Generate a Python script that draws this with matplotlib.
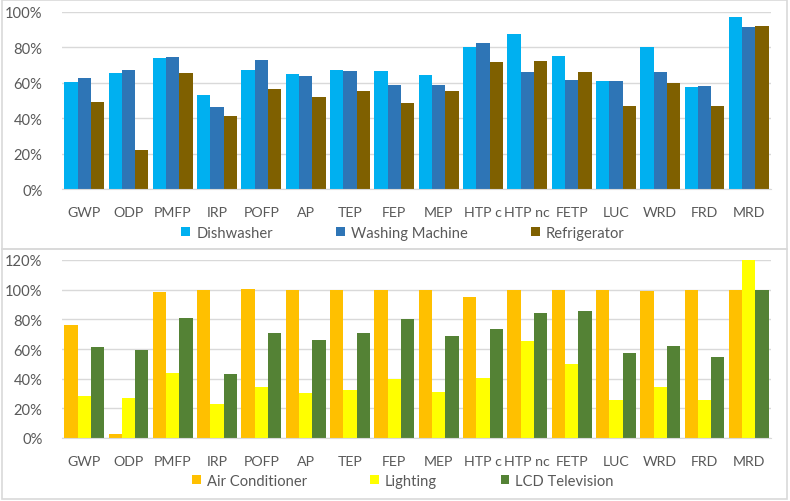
import matplotlib
matplotlib.use("Agg")
import matplotlib.pyplot as plt
from matplotlib.patches import Rectangle
from matplotlib.ticker import PercentFormatter
import numpy as np

plt.rcParams['font.family'] = ['Lato', 'DejaVu Sans']

# categorias de impacto
categorias = ["GWP", "ODP", "PMFP", "IRP", "POFP", "AP", "TEP", "FEP", "MEP",
              "HTP c", "HTP nc", "FETP", "LUC", "WRD", "FRD", "MRD"]

# panel superior (%)
dishwasher = [60.5, 65.7, 73.8, 53.3, 67.4, 65.2, 67.4, 66.5, 64.4, 80.2, 87.8, 75.3, 61.0, 80.2, 57.8, 97.4]
washing = [62.9, 67.4, 74.6, 46.3, 72.7, 64.0, 66.9, 58.6, 58.6, 82.5, 66.3, 61.8, 61.0, 66.1, 58.2, 91.5]
refrigerator = [49.3, 21.8, 65.7, 41.2, 56.5, 52.2, 55.2, 48.8, 55.2, 71.6, 72.3, 66.1, 47.1, 59.9, 47.1, 91.9]

# panel inferior (%)
aire = [75.9, 2.7, 98.2, 100.0, 100.4, 99.5, 99.5, 100.0, 99.5, 95.2, 99.5, 99.5, 100.0, 98.8, 100.0, 100.0]
lighting = [28.1, 26.8, 43.9, 23.0, 34.7, 30.2, 32.4, 39.8, 30.8, 40.3, 65.3, 49.8, 25.9, 34.7, 25.9, 120.0]
lcd_tv = [61.5, 59.2, 81.0, 43.4, 70.7, 66.0, 71.1, 79.9, 68.9, 73.6, 84.6, 85.5, 57.2, 61.9, 54.9, 99.5]

gris = '#595959'
linea = '#d9d9d9'
W, H = 790, 502
fs = 10.2

fig = plt.figure(figsize=(W / 100, H / 100), dpi=100)
ax1 = fig.add_axes([62 / W, 1 - 190 / H, (771 - 62) / W, (190 - 13) / H])
ax2 = fig.add_axes([62 / W, 1 - 439 / H, (771 - 62) / W, (439 - 261) / H])

x = np.arange(len(categorias))
ancho = 0.3


def panel(ax, series, nombres, colores, ymax, ley_y):
    for i, (s, n, c) in enumerate(zip(series, nombres, colores)):
        ax.bar(x + (i - 1) * ancho, s, ancho, color=c, label=n, zorder=2)
    ax.set_xlim(-0.5, len(categorias) - 0.5)
    ax.set_ylim(0, ymax)
    ax.set_yticks(np.arange(0, ymax + 1, 20))
    ax.yaxis.set_major_formatter(PercentFormatter(decimals=0))
    ax.set_xticks(x)
    ax.set_xticklabels(categorias)
    ax.tick_params(axis='both', length=0, labelsize=fs + 0.4, colors=gris)
    ax.tick_params(axis='x', labelsize=fs, pad=12)
    ax.tick_params(axis='y', pad=14)
    ax.grid(axis='y', color=linea, lw=1, zorder=0)
    for lado in ['top', 'right', 'left']:
        ax.spines[lado].set_visible(False)
    ax.spines['bottom'].set_color(linea)
    ax.spines['bottom'].set_zorder(3)
    fig.legend(handles=ax.get_legend_handles_labels()[0], loc='center',
               bbox_to_anchor=(403 / W, 1 - ley_y / H), ncol=3, frameon=False,
               fontsize=fs + 0.4, labelcolor=gris, handlelength=0.6, handleheight=0.6,
               handletextpad=0.4, columnspacing=4.3)


panel(ax1, [dishwasher, washing, refrigerator],
      ["Dishwasher", "Washing Machine", "Refrigerator"],
      ['#00b0f0', '#2e75b6', '#7f6000'], 100, 234)
panel(ax2, [aire, lighting, lcd_tv],
      ["Air Conditioner", "Lighting", "LCD Television"],
      ['#ffc000', '#ffff00', '#548235'], 120, 482)

# marcos de cada grafico
for (y0, y1) in [(1, 250), (250, 500)]:
    fig.add_artist(Rectangle((2 / W, 1 - y1 / H), 785 / W, (y1 - y0) / H,
                             transform=fig.transFigure, fill=False,
                             edgecolor=linea, lw=1.2))

plt.savefig('out.png', dpi=100)
